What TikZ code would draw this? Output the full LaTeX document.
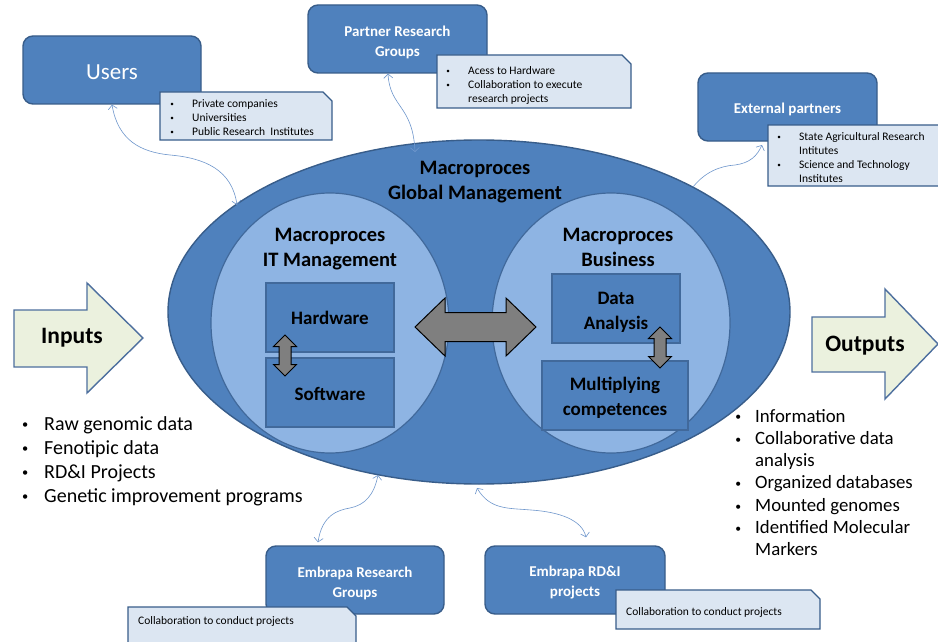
\documentclass[tikz,border=0pt]{standalone}
\usepackage{fontspec}
\setmainfont{Carlito}
\usetikzlibrary{shapes.geometric,arrows.meta}
\definecolor{boxblue}{HTML}{4F81BD}
\definecolor{boxedge}{HTML}{385D8A}
\definecolor{innerfill}{HTML}{8EB4E3}
\definecolor{inneredge}{HTML}{41699B}
\definecolor{notefill}{HTML}{DCE6F2}
\definecolor{linkblue}{HTML}{6F97CC}
\definecolor{iofill}{HTML}{EBF1DE}
\definecolor{ioedge}{HTML}{4D6F9E}
\definecolor{swapgray}{HTML}{7F7F7F}
% small bullet centred in a box of the given width
\newcommand\itemdot[1]{\makebox[#1][c]{\raisebox{0.06em}{\scalebox{0.62}{•}}}}
% note card with a snipped top-right corner, drawn over a named frame node
\newcommand\notecard[1]{\filldraw[notedraw] (#1.south west) -- (#1.north west)
  -- ([xshift=-9pt]#1.north east) -- ([yshift=-9pt]#1.north east) -- (#1.south east) -- cycle;}

\begin{document}
\begin{tikzpicture}[x=1pt,y=-1pt,
  >={Straight Barb[length=4pt,width=9pt]},
  topbox/.style={rectangle, rounded corners=10pt, fill=boxblue, draw=boxedge,
    line width=1.4pt, inner sep=0pt, minimum width=178pt, minimum height=68pt},
  toptext/.style={text=white, align=center, inner sep=0pt,
    font=\bfseries\fontsize{15}{20}\selectfont},
  noteframe/.style={rectangle, inner sep=0pt, outer sep=0pt},
  notedraw/.style={fill=notefill, draw=boxedge, line width=1.4pt, line join=miter},
  notetext/.style={inner sep=0pt, anchor=base west,
    font=\fontsize{11.5}{14}\selectfont},
  globalshape/.style={ellipse, fill=boxblue, draw=boxedge, line width=1.4pt, inner sep=0pt},
  innershape/.style={ellipse, fill=innerfill, draw=inneredge, line width=1.2pt, inner sep=0pt},
  title/.style={align=center, inner sep=0pt, font=\bfseries\fontsize{20.5}{25}\selectfont},
  innerbox/.style={rectangle, fill=boxblue, draw=inneredge, line width=1.6pt,
    inner sep=0pt, minimum height=69pt},
  innertext/.style={align=center, inner sep=0pt, font=\bfseries\fontsize{19}{25}\selectfont},
  swap/.style={fill=swapgray, draw=black, line width=1pt, line join=miter},
  link/.style={draw=linkblue, line width=0.6pt},
  ioshape/.style={fill=iofill, draw=ioedge, line width=1.4pt, line join=miter},
  iotext/.style={inner sep=0pt, font=\bfseries\fontsize{23.5}{28}\selectfont},
  listtext/.style={inner sep=0pt, anchor=base west}
]
\fill[white] (0,0) rectangle (938,642);
\useasboundingbox (0,0) rectangle (938,642);

% central process ellipses
\node[globalshape, minimum width=622pt, minimum height=344pt] (global) at (479,312) {};
\node[innershape, minimum width=238pt, minimum height=260pt] (itcircle) at (330,323) {};
\node[innershape, minimum width=238pt, minimum height=260pt] (bizcircle) at (611,323) {};
\node[title] (globaltitle) at (475,182) {Macroproces\\Global Management};
\node[title] (ittitle) at (330,249) {Macroproces\\IT Management};
\node[title] (biztitle) at (618,247) {Macroproces\\Business};

% process blocks
\node[innerbox, minimum width=128pt] (hardware) at (330,317.5) {};
\node[innerbox, minimum width=128pt] (software) at (330,392.5) {};
\node[innerbox, minimum width=128pt] (dataan) at (616,308.5) {};
\node[innerbox, minimum width=146pt] (multcomp) at (615,395.5) {};
\node[innertext] (hardwaretext) at (330,318) {Hardware};
\node[innertext] (softwaretext) at (330,394) {Software};
\node[innertext] (dataantext) at (616,312.5) {Data\\Analysis};
\node[innertext] (multcomptext) at (615,398) {Multiplying\\competences};

% exchange arrows
\filldraw[swap] (415,327) -- (445,298) -- (445,312.5) -- (506,312.5) -- (506,298)
  -- (536,327) -- (506,356) -- (506,341.5) -- (445,341.5) -- (445,356) -- cycle;
\filldraw[swap] (285,335) -- (296.5,346.5) -- (291,346.5) -- (291,364.5) -- (296.5,364.5)
  -- (285,376) -- (273.5,364.5) -- (279,364.5) -- (279,346.5) -- (273.5,346.5) -- cycle;
\filldraw[swap] (660,327) -- (671.5,338.5) -- (666,338.5) -- (666,356.5) -- (671.5,356.5)
  -- (660,368) -- (648.5,356.5) -- (654,356.5) -- (654,338.5) -- (648.5,338.5) -- cycle;

% stakeholder boxes
\node[topbox] (users) at (112,70) {};
\node[topbox, minimum width=179pt] (partner) at (397.5,39) {};
\node[topbox, minimum width=179pt] (external) at (787.5,107) {};
\node[topbox] (embgroups) at (355,580) {};
\node[topbox, minimum width=180pt] (embprojects) at (575,580) {};
\node[toptext, font=\fontsize{23}{28}\selectfont] (userstext) at (112,72) {Users};
\node[toptext] (partnertext) at (397.5,42.5) {Partner Research\\Groups};
\node[toptext] (externaltext) at (787.5,109) {External partners};
\node[toptext] (embgroupstext) at (355,583) {Embrapa Research\\Groups};
\node[toptext] (embprojectstext) at (575,583) {Embrapa RD\&I\\projects};

% connectors
\coordinate (usersend) at (237,205);
\coordinate (partnerend) at (415,152);
\coordinate (externalstart) at (693,187);
\coordinate (externalend) at (762,145);
\coordinate (groupsend) at (378,475);
\coordinate (projectsend) at (477,488);
\draw[link,<->] (users.south) .. controls (118,140) and (140,152) .. (170,155)
  .. controls (205,158) and (232,170) .. (usersend);
\draw[link,<->] ([xshift=-9.5pt]partner.south) .. controls (390,108) and (413,105) .. (partnerend);
\draw[link,->] (externalstart) .. controls (705,172) and (720,166) .. (735,165)
  .. controls (750,163) and (757,156) .. (externalend);
\draw[link,<->] ([xshift=-37pt,yshift=3pt]embgroups.north) .. controls (322,515) and (338,510) .. (350,508)
  .. controls (365,505) and (374,495) .. (groupsend);
\draw[link,<->] (projectsend) .. controls (490,510) and (508,508) .. (531,510)
  .. controls (560,512) and (582,520) .. ([xshift=11pt,yshift=8pt]embprojects.north);

% notes
\node[noteframe, minimum width=172pt, minimum height=48pt] (usersnote) at (246,116) {};
\notecard{usersnote}
\node[notetext] (usersitems) at (167,107.5) {\begin{tabular}[t]{@{}p{25pt}@{}l@{}}
  \itemdot{10pt}&Private companies\\ \itemdot{10pt}&Universities\\
  \itemdot{10pt}&Public Research~ Institutes\end{tabular}};
\node[noteframe, minimum width=194pt, minimum height=53pt] (partnernote) at (534,81.5) {};
\notecard{partnernote}
\node[notetext] (partneritems) at (443,74.5) {\begin{tabular}[t]{@{}p{25pt}@{}l@{}}
  \itemdot{10pt}&Acess to Hardware\\ \itemdot{10pt}&Collaboration to execute\\
  &research projects\end{tabular}};
\node[noteframe, minimum width=184pt, minimum height=61pt] (externalnote) at (860,155.5) {};
\notecard{externalnote}
\node[notetext] (externalitems) at (774,140.5) {\begin{tabular}[t]{@{}p{25pt}@{}l@{}}
  \itemdot{10pt}&State Agricultural Research\\ &Intitutes\\
  \itemdot{10pt}&Science and Technology\\ &Institutes\end{tabular}};
\node[noteframe, minimum width=228pt, minimum height=45pt] (groupsnote) at (242,629.5) {};
\notecard{groupsnote}
\node[notetext] (groupsitems) at (138,624.5) {Collaboration to conduct projects};
\node[noteframe, minimum width=204pt, minimum height=39pt] (projectsnote) at (718,609.5) {};
\notecard{projectsnote}
\node[notetext] (projectsitems) at (626,615.5) {Collaboration to conduct projects};

% inputs and outputs
\draw[ioshape] (14,310) -- (87,310) -- (87,283) -- (143,338) -- (87,393) -- (87,367) -- (14,367) -- cycle;
\node[iotext] (inputs) at (72,338) {Inputs};
\draw[ioshape] (812,317) -- (885,317) -- (885,289) -- (938,344) -- (885,399) -- (885,372) -- (812,372) -- cycle;
\node[iotext] (outputs) at (865,346) {Outputs};

\node[listtext, font=\fontsize{20}{24}\selectfont] (inputlist) at (20,430)
  {\begin{tabular}[t]{@{}p{24pt}@{}l@{}}
  \itemdot{10pt}&Raw genomic data\\ \itemdot{10pt}&Fenotipic data\\
  \itemdot{10pt}&RD\&I Projects\\ \itemdot{10pt}&Genetic improvement programs\end{tabular}};
\node[listtext, font=\fontsize{18.8}{22.3}\selectfont] (outputlist) at (733,422)
  {\begin{tabular}[t]{@{}p{22pt}@{}l@{}}
  \itemdot{10pt}&Information\\ \itemdot{10pt}&Collaborative data\\ &analysis\\
  \itemdot{10pt}&Organized databases\\ \itemdot{10pt}&Mounted genomes\\
  \itemdot{10pt}&Identified Molecular\\ &Markers\end{tabular}};
\end{tikzpicture}
\end{document}
